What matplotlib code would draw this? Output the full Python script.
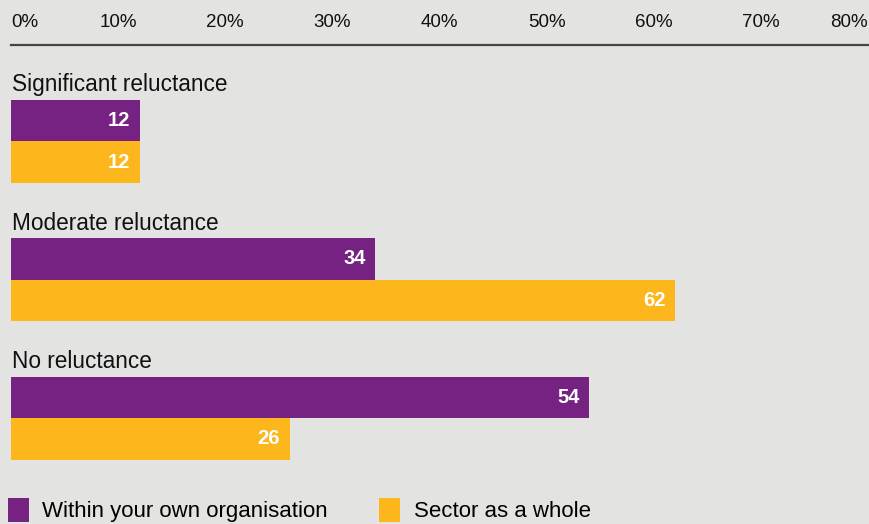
import matplotlib.pyplot as plt
import numpy as np
from matplotlib.patches import Patch

categories = ["Significant reluctance", "Moderate reluctance", "No reluctance"]
own_org = [12, 34, 54]
sector = [12, 62, 26]
series_names = ["Within your own organisation", "Sector as a whole"]
ticks = [0, 10, 20, 30, 40, 50, 60, 70, 80]

purple = "#762282"
yellow = "#FDB71C"
bg = "#E3E3E2"

W, H = 869, 524
plt.rcParams['font.family'] = ['Liberation Sans', 'DejaVu Sans']

fig = plt.figure(figsize=(W / 100, H / 100), dpi=100, facecolor=bg)
# axes in pixel terms: line at y=45, x from 11 to 868
ax = fig.add_axes([11 / W, 1 - 480 / H, 857 / W, (480 - 45) / H])
ax.set_facecolor(bg)

gap = 138.5          # px between groups
bh = 41.5 / gap      # bar height in group units
y = np.arange(len(categories))

ax.barh(y, own_org, height=bh, color=purple, align='center')
ax.barh(y + bh, sector, height=bh, color=yellow, align='center')

for i, cat in enumerate(categories):
    ax.text(0.1, y[i] - 36 / gap, cat, fontsize=16.3, va='center', ha='left', color='#111111')
    ax.text(own_org[i] - 0.9, y[i], str(own_org[i]), fontsize=14.5, fontweight='bold',
            color='white', va='center', ha='right')
    ax.text(sector[i] - 0.9, y[i] + bh, str(sector[i]), fontsize=14.5, fontweight='bold',
            color='white', va='center', ha='right')

ax.set_xlim(0, 80)
ax.set_ylim((480 - 120.5) / gap, (45 - 120.5) / gap)

ax.xaxis.tick_top()
ax.set_xticks(ticks)
ax.set_xticklabels([f"{t}%" for t in ticks], fontsize=13.5, color='#111111')
ax.tick_params(axis='x', length=0, pad=10)
labels = ax.get_xticklabels()
labels[0].set_ha('left')
labels[-1].set_ha('right')
ax.set_yticks([])

for s in ['bottom', 'left', 'right']:
    ax.spines[s].set_visible(False)
ax.spines['top'].set_color('#444444')
ax.spines['top'].set_linewidth(1.6)

# legend along the bottom edge
handles = [Patch(facecolor=purple), Patch(facecolor=yellow)]
fig.legend(handles, series_names, loc='upper left', bbox_to_anchor=(-1 / W, 1 - 489 / H),
           ncol=2, frameon=False, fontsize=16, handlelength=0.95, handleheight=1.3,
           handletextpad=0.6, columnspacing=2.3, borderaxespad=0)

fig.savefig("out.png", dpi=100, facecolor=bg)
